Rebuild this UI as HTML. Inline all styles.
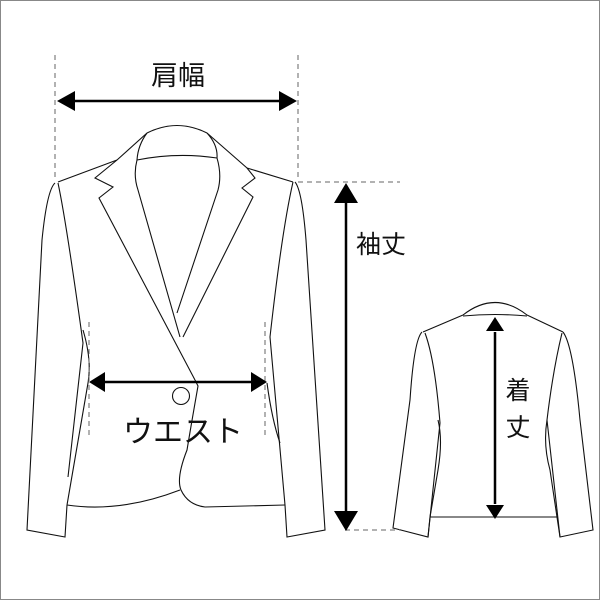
<!DOCTYPE html>
<html><head><meta charset="utf-8"><style>
body{margin:0;background:#fff}
svg{display:block}
text{font-family:"Liberation Sans","Noto Sans CJK JP",sans-serif;fill:#111}
</style></head><body>
<svg width="600" height="600" viewBox="0 0 600 600" xmlns="http://www.w3.org/2000/svg">
<rect x="0.5" y="0.5" width="599" height="599" fill="#fff" stroke="#888"/>
<g fill="none" stroke="#111" stroke-width="1.1">
<path d="M147,133 Q177,118 207,133"/>
<path d="M137,160 Q177,152 217,158"/>
<path d="M147,133 Q138,145 137,160 Q133,175 138,190 L180,337"/>
<path d="M207,133 Q218,145 217,158 Q222,175 218,190 L177,313"/>
<path d="M147,133 L117,160 L95,178 L113,187 L99,198 L195,380"/>
<path d="M207,133 L247,168 L255,178 L242,188 L253,197 L183,337"/>
<path d="M117,160 L58,182"/>
<path d="M247,168 L293,182"/>
<path d="M55,183 Q47,190 42,240 L27,530 L65,537 L67,505"/>
<path d="M58,183 Q66,220 83,343 L68,477"/>
<path d="M83,330 Q92,360 88,383 L67,505"/>
<path d="M67,505 Q120,513 180,490"/>
<path d="M195,380 L198,386 Q192,420 187,450 Q176,478 181,490 Q188,505 205,507 L285,505"/>
<circle cx="181" cy="396" r="8.5"/>
<path d="M295,182 Q302,190 306,240 L325,530 L287,537 L285,505"/>
<path d="M293,182 Q282,230 270,337 L285,505"/>
<path d="M267,383 Q272,420 280,443"/>
<path d="M463,315 Q495,290 527,315"/>
<path d="M463,316 Q495,313 527,316"/>
<path d="M463,315 L423,332 M527,315 L563,332"/>
<path d="M422,332 Q414,340 410,400 L393,528 L428,537 L430,517 L557,517 L560,537 L593,530 L580,420 Q573,345 563,332"/>
<path d="M425,333 Q435,360 440,423 L428,537"/>
<path d="M438,420 Q443,440 438,470 L430,517"/>
<path d="M562,333 Q553,370 547,420 L560,537"/>
<path d="M547,420 Q543,445 550,470 L557,517"/>
</g>
<g stroke="#666" stroke-width="1" stroke-dasharray="5,4" fill="none">
<path d="M55,55 V180 M298,55 V180 M298,182 H400 M89,322 V436 M265,322 V436 M345,530 H400"/>
</g>
<g stroke="#000" stroke-width="2.5" fill="none">
<path d="M70,101 H284 M104,382 H252 M346,200 V514 M495,332 V504"/>
</g>
<g fill="#000">
<path d="M57,101 L75,91 L75,111Z M297,101 L279,91 L279,111Z"/>
<path d="M89,382 L105,372 L105,392Z M267,382 L251,372 L251,392Z"/>
<path d="M346,183 L334,203 L358,203Z M346,531 L334,511 L358,511Z"/>
<path d="M495,317 L486,331 L504,331Z M495,519 L486,505 L504,505Z"/>
</g>
<text x="178" y="85" font-size="27" text-anchor="middle">肩幅</text>
<text x="381" y="253" font-size="25" text-anchor="middle">袖丈</text>
<text x="183" y="442" font-size="30" text-anchor="middle">ウエスト</text>
<text x="518" y="399" font-size="25" text-anchor="middle">着</text>
<text x="518" y="436" font-size="25" text-anchor="middle">丈</text>
</svg>
</body></html>
